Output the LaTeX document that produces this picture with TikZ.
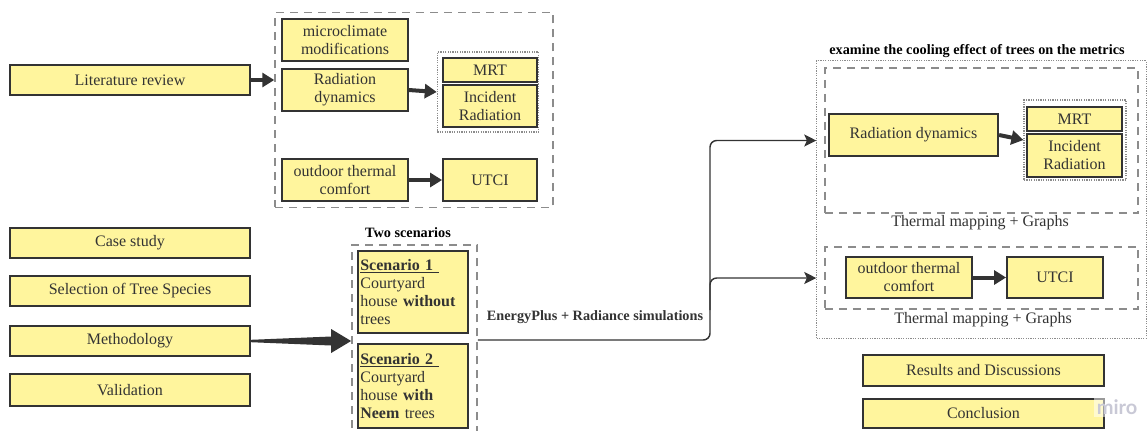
\documentclass[tikz,border=0pt]{standalone}
\usepackage{fontspec}
\setmainfont{Liberation Serif}
\newfontfamily\wmfont{Lato}
\usetikzlibrary{arrows.meta,calc}
\definecolor{boxfill}{HTML}{FFF59D}
\definecolor{boxline}{HTML}{333333}
\definecolor{txt}{HTML}{333333}
\definecolor{frame}{HTML}{8C8C8C}
\definecolor{wmark}{HTML}{C9C9D6}

\begin{document}
\begin{tikzpicture}[x=0.75pt,y=-0.75pt,
	ybox/.style={draw=boxline,fill=boxfill,line width=1.4pt,text=txt,inner sep=0pt,align=center,font=\fontsize{12}{13.5}\selectfont},
	scenbox/.style={ybox,align=left,text width=79pt,inner xsep=1.75pt,minimum height=62pt},
	dashbox/.style={draw=frame,line width=1.1pt,dash pattern=on 6pt off 4.5pt,inner sep=0pt},
	dotbox/.style={draw=frame,line width=0.9pt,dash pattern=on 0.9pt off 0.9pt,inner sep=0pt},
	fatarrow/.style={draw=boxline,line width=3pt,-{Triangle[length=9pt,width=10.5pt]}},
	flow/.style={draw=boxline,line width=1.1pt,rounded corners=5pt,-{Stealth[length=9pt,width=9pt,inset=2pt]}},
	boldlabel/.style={text=black,font=\fontsize{10.7}{12}\selectfont\bfseries},
	caption/.style={text=txt,font=\fontsize{12}{13.5}\selectfont}]

	\useasboundingbox (0,0) rectangle (1148,430);

	% left column
	\node[ybox,minimum width=180pt,minimum height=22.5pt] (lit) at (130,80) {Literature review};
	\node[ybox,minimum width=180pt,minimum height=22pt] (case) at (130,243) {Case study};
	\node[ybox,minimum width=180pt,minimum height=22.5pt] (species) at (130,291) {Selection of Tree Species};
	\node[ybox,minimum width=180pt,minimum height=23pt] (method) at (130,341) {Methodology};
	\node[ybox,minimum width=180pt,minimum height=24pt] (valid) at (130,390) {Validation};

	% literature block
	\node[dashbox,minimum width=208.5pt,minimum height=146pt] (litgroup) at (414,110) {};
	\node[ybox,minimum width=94.5pt,minimum height=31.5pt] (micro) at (345,40) {microclimate\\modifications};
	\node[ybox,minimum width=94.5pt,minimum height=31.5pt] (raddyn) at (345,90) {Radiation\\dynamics};
	\node[dotbox,minimum width=76pt,minimum height=60pt] (metrics) at (488,92) {};
	\node[ybox,minimum width=70.5pt,minimum height=18pt] (mrt) at (490,70) {MRT};
	\node[ybox,minimum width=70.5pt,minimum height=31.5pt] (incid) at (490,106) {Incident\\Radiation};
	\node[ybox,minimum width=94.5pt,minimum height=31.5pt] (comfort) at (345,180) {outdoor thermal\\comfort};
	\node[ybox,minimum width=70.5pt,minimum height=31.5pt] (utci) at (490,180) {UTCI};

	\draw[fatarrow] (lit.east) -- (litgroup.west |- lit.east);
	\draw[fatarrow] (raddyn.east) -- (metrics.west);
	\draw[fatarrow] (comfort.east) -- (utci.west);

	% scenarios
	\node[boldlabel] (twoscen) at (408,233) {Two scenarios};
	\node[dashbox,minimum width=94pt,minimum height=142.5pt] (scengroup) at (414.5,340) {};
	\node[scenbox] (scen1) at (413,292) {\underline{\textbf{Scenario 1~}}\\Courtyard\\house \textbf{without}\\trees};
	\node[scenbox,minimum height=63pt] (scen2) at (413,386) {\underline{\textbf{Scenario 2~}}\\Courtyard\\house \textbf{with}\\\textbf{Neem} trees};

	\coordinate (tip) at (scengroup.west |- method.east);
	\fill[boxline] ($(method.east)+(0,-1.2)$) -- ($(tip)+(-20,-4.5)$) -- ($(tip)+(-20,-12)$) -- (tip)
		-- ($(tip)+(-20,12)$) -- ($(tip)+(-20,4.5)$) -- ($(method.east)+(0,1.2)$) -- cycle;

	% examine block
	\node[boldlabel] (examine) at (977,51) {examine the cooling effect of trees on the metrics};
	\node[dotbox,minimum width=247pt,minimum height=208pt] (outer) at (981.5,199.5) {};
	\node[dashbox,minimum width=235pt,minimum height=109pt] (radgroup) at (981.5,140.5) {};
	\node[caption] (map1) at (980,223) {Thermal mapping + Graphs};
	\node[ybox,minimum width=127pt,minimum height=31.5pt] (raddyn2) at (913.5,135) {Radiation dynamics};
	\node[dotbox,minimum width=76.5pt,minimum height=60pt] (metrics2) at (1075,140) {};
	\node[ybox,minimum width=71pt,minimum height=18pt] (mrt2) at (1074.5,119) {MRT};
	\node[ybox,minimum width=71pt,minimum height=32pt] (incid2) at (1074.5,155.5) {Incident\\Radiation};
	\node[dashbox,minimum width=235pt,minimum height=46.5pt] (comfgroup) at (981.5,278) {};
	\node[caption] (map2) at (983,320) {Thermal mapping + Graphs};
	\node[ybox,minimum width=94.5pt,minimum height=31pt] (comfort2) at (909,277.5) {outdoor thermal\\comfort};
	\node[ybox,minimum width=72pt,minimum height=31pt] (utci2) at (1055,277.5) {UTCI};

	\draw[fatarrow] (raddyn2.east) -- (metrics2.west);
	\draw[fatarrow] (comfort2.east) -- (utci2.west);

	% simulation flow
	\coordinate (turn) at (710,340);
	\coordinate (split) at (710,310);
	\draw[flow] (scengroup.east |- turn) -- (turn) |- (outer.west |- radgroup.west);
	\draw[flow] (split) |- (outer.west |- comfgroup.west);
	\node[boldlabel,text=txt] (sims) at (595,317) {EnergyPlus + Radiance simulations};

	% closing
	\node[ybox,minimum width=181pt,minimum height=23pt] (results) at (983.5,370.5) {Results and Discussions};
	\node[ybox,minimum width=181pt,minimum height=22pt] (concl) at (983.5,413.5) {Conclusion};
	\node[fill=white,fill opacity=0.5,text opacity=1,text=wmark,font=\wmfont\bfseries\fontsize{15}{15}\selectfont,inner sep=2pt] (miro) at (1117,407) {miro};
\end{tikzpicture}
\end{document}
